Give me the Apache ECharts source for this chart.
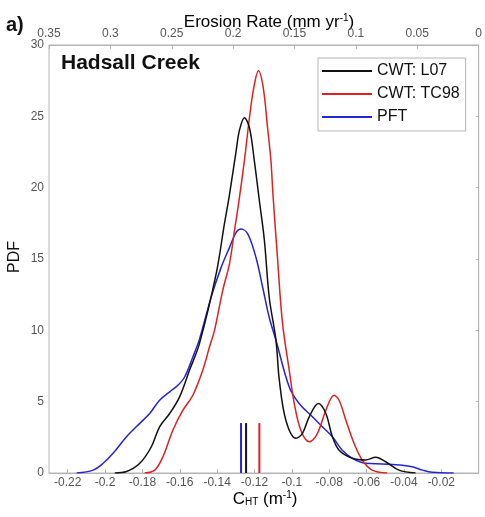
<!DOCTYPE html>
<html>
<head>
<meta charset="utf-8">
<script src="https://cdn.jsdelivr.net/npm/echarts@6/dist/echarts.min.js"></script>
<style>html,body{margin:0;padding:0;background:#fff}#c{width:485px;height:517px}</style>
</head>
<body>
<div id="c"></div>
<script>
// ---- data ----
const seriesNames = ['CWT: L07', 'CWT: TC98', 'PFT'];

const l07X = [-0.1948,-0.1885,-0.1814,-0.1752,-0.1708,-0.1654,-0.1601,-0.1548,-0.1494,-0.1405,-0.1361,-0.1334,-0.1298,-0.1281,-0.1254,-0.1227,-0.1201,-0.1174,-0.1147,-0.1121,-0.1085,-0.1067,-0.1032,-0.0978,-0.0943,-0.0907,-0.0858,-0.0818,-0.0783,-0.0747,-0.0676,-0.0605,-0.0551,-0.0498,-0.0427,-0.0338];
const l07Y = [0,0.1,0.68,1.84,3.24,4.17,5.34,7.2,9.1,13.97,17.46,19.5,22.6,24.0,24.9,24.2,21.9,19.1,16.3,12.3,9.3,6.5,3.7,2.43,2.78,3.94,4.87,4.17,2.54,1.6,1.03,0.91,1.1,0.79,0.2,0];

const tc98X = [-0.1788,-0.1734,-0.169,-0.1637,-0.1583,-0.153,-0.1477,-0.1441,-0.1414,-0.137,-0.1334,-0.1307,-0.1285,-0.1254,-0.1227,-0.1204,-0.1179,-0.1153,-0.113,-0.1112,-0.1101,-0.1077,-0.105,-0.1014,-0.0987,-0.0952,-0.0907,-0.0863,-0.0818,-0.0774,-0.0747,-0.0711,-0.0667,-0.0623,-0.057,-0.049];
const tc98Y = [0,0.2,1.14,3.0,4.4,5.45,7.2,8.83,10.0,12.8,14.66,17.0,18.9,21.9,24.9,27.0,28.2,27.0,24.2,21.9,19.5,15.1,10.5,7.2,4.87,3.0,2.19,2.78,4.4,5.45,5.1,3.7,2.08,0.91,0.2,0];

const pftX = [-0.2152,-0.2064,-0.201,-0.1957,-0.1885,-0.1814,-0.1761,-0.1708,-0.1654,-0.161,-0.1574,-0.153,-0.1494,-0.1432,-0.1378,-0.1334,-0.1298,-0.1272,-0.1236,-0.1192,-0.1156,-0.1121,-0.1085,-0.1014,-0.0961,-0.089,-0.0837,-0.0783,-0.073,-0.0676,-0.0605,-0.0516,-0.0409,-0.035,-0.03,-0.025,-0.0134];
const pftY = [0,0.2,0.68,1.38,2.54,3.48,4.17,5.1,5.69,6.15,6.73,8.13,9.4,12.33,14.43,15.8,16.87,17.1,16.76,15.1,13.0,10.9,9.3,6.03,4.87,3.94,3.24,2.54,1.6,1.03,0.68,0.63,0.55,0.42,0.2,0.05,0];

// mean markers (L07, TC98, PFT)
const meanX = [-0.1245, -0.1174, -0.1272];
const meanTop = [3.5, 3.5, 3.5];

const bottomTicks = [-0.22,-0.2,-0.18,-0.16,-0.14,-0.12,-0.1,-0.08,-0.06,-0.04,-0.02];
const topTicks = [0.35,0.3,0.25,0.2,0.15,0.1,0.05,0];

// ---- chart ----
const colors = ['#111111', '#e21f1f', '#2424d8'];
const FONT = 'Liberation Sans, Arial, Helvetica, sans-serif';
const AX = '#b4b4b4';
const LBL = '#555555';

const curves = [[l07X, l07Y], [tc98X, tc98Y], [pftX, pftY]];
const series = curves.map((c, i) => ({
  name: seriesNames[i],
  type: 'line',
  xAxisIndex: 0,
  yAxisIndex: 0,
  smooth: 0.35,
  symbol: 'none',
  data: c[0].map((x, j) => [x, c[1][j]]),
  lineStyle: { color: colors[i], width: 1.5 },
  itemStyle: { color: colors[i] },
  z: 3 - i
}));
meanX.forEach((mx, i) => {
  series.push({
    name: seriesNames[i] + ' mean',
    type: 'line',
    xAxisIndex: 0,
    yAxisIndex: 0,
    symbol: 'none',
    data: [[mx, 0], [mx, meanTop[i]]],
    lineStyle: { color: colors[i], width: 2 },
    silent: true
  });
});

const chart = echarts.init(document.getElementById('c'), null, { renderer: 'canvas' });
chart.setOption({
  animation: false,
  backgroundColor: '#ffffff',
  textStyle: { fontFamily: FONT },
  grid: { left: 49, right: 6, top: 45, bottom: 44, show: true, borderColor: AX, borderWidth: 1, backgroundColor: 'transparent' },
  legend: {
    data: seriesNames,
    orient: 'vertical',
    left: 318, top: 58,
    icon: 'rect',
    itemWidth: 50, itemHeight: 2, itemGap: 5,
    padding: [4, 6, 5, 4],
    borderColor: AX, borderWidth: 1, backgroundColor: '#fff',
    textStyle: { fontSize: 16, color: '#111', fontFamily: FONT, lineHeight: 18 }
  },
  xAxis: [
    {
      type: 'value', position: 'bottom', min: -0.23, max: 0,
      axisLine: { show: true, lineStyle: { color: AX } },
      axisTick: { show: true, inside: true, length: 4, customValues: bottomTicks, lineStyle: { color: AX } },
      axisLabel: { customValues: bottomTicks, color: LBL, fontSize: 12, margin: 4, fontFamily: FONT },
      splitLine: { show: false }
    },
    {
      type: 'value', position: 'top', min: 0, max: 0.35, inverse: true,
      axisLine: { show: true, lineStyle: { color: AX } },
      axisTick: { show: true, inside: true, length: 4, customValues: topTicks, lineStyle: { color: AX } },
      axisLabel: { customValues: topTicks, color: LBL, fontSize: 12, margin: 5, fontFamily: FONT, showMinLabel: true, showMaxLabel: true },
      splitLine: { show: false }
    }
  ],
  yAxis: {
    type: 'value', min: 0, max: 30, interval: 5,
    axisLine: { show: true, lineStyle: { color: AX } },
    axisTick: { show: true, inside: false, length: 3, lineStyle: { color: AX } },
    axisLabel: { color: LBL, fontSize: 12, margin: 5, fontFamily: FONT },
    splitLine: { show: false }
  },
  series: series,
  graphic: [
    { type: 'text', left: 6, top: 15, style: { text: 'a)', font: 'bold 20px ' + FONT, fill: '#111' } },
    { type: 'text', x: 269, y: 22, style: {
        text: '{m|Erosion Rate (mm yr}{s|-1}{m|)}', align: 'center', verticalAlign: 'middle',
        rich: { m: { fontSize: 17, fontFamily: FONT, color: '#111' }, s: { fontSize: 10, fontFamily: FONT, verticalAlign: 'top', color: '#111' } }
    } },
    { type: 'text', left: 61, top: 53, style: { text: 'Hadsall Creek', font: 'bold 21px ' + FONT, fill: '#111' } },
    { type: 'text', x: 15, y: 257, rotation: Math.PI / 2, style: { text: 'PDF', font: '16px ' + FONT, fill: '#111', align: 'center', verticalAlign: 'middle' } },
    { type: 'text', x: 265, y: 499, style: {
        text: '{m|C}{b|HT}{m| (m}{s|-1}{m|)}', align: 'center', verticalAlign: 'middle',
        rich: { m: { fontSize: 17, fontFamily: FONT, color: '#111' }, b: { fontSize: 10, fontFamily: FONT, verticalAlign: 'bottom', color: '#111', padding: [4, 0, 0, 0] }, s: { fontSize: 10, fontFamily: FONT, verticalAlign: 'top', color: '#111' } }
    } }
  ]
});
</script>
</body>
</html>
